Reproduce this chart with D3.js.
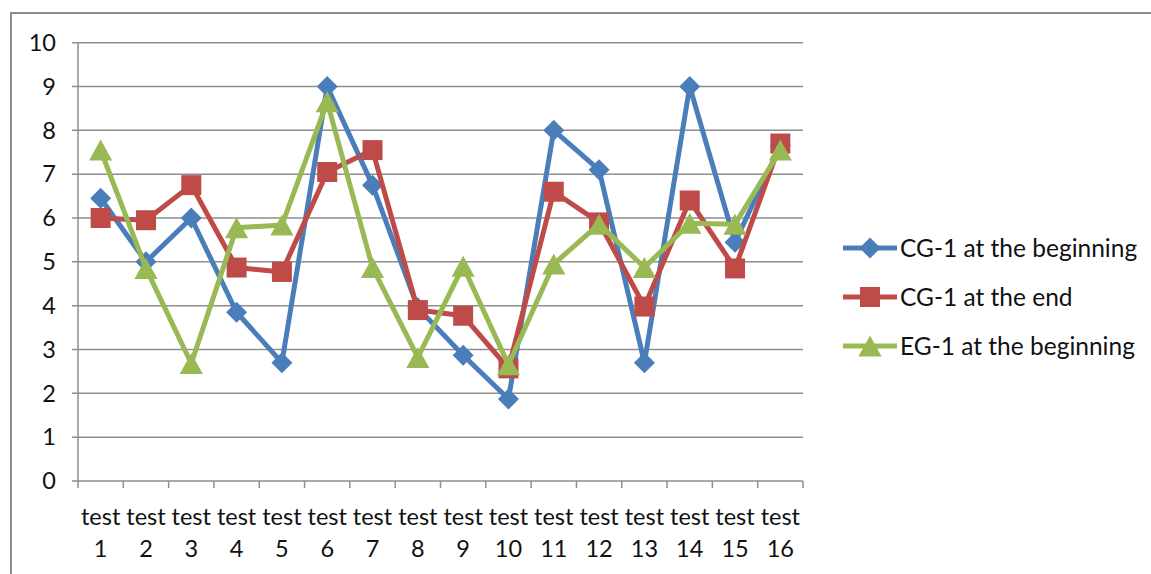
<!DOCTYPE html>
<html>
<head>
<meta charset="utf-8">
<script src="https://cdn.jsdelivr.net/npm/d3@7"></script>
<style>
  html, body { margin: 0; padding: 0; background: #fff; }
  svg { display: block; font-family: Lato, "Open Sans", sans-serif; }
</style>
</head>
<body>
<svg id="chart" width="1151" height="574"></svg>
<script>
// Test categories (two-line labels: "test" / number)
const categories = ["1","2","3","4","5","6","7","8","9","10","11","12","13","14","15","16"];

// Series values per test
const cgBegin = [6.45, 5.0, 6.0, 3.85, 2.7, 9.0, 6.75, 3.95, 2.87, 1.87, 8.0, 7.1, 2.7, 9.0, 5.45, 7.65];
const cgEnd   = [6.0, 5.95, 6.75, 4.87, 4.77, 7.05, 7.55, 3.9, 3.77, 2.57, 6.6, 5.9, 3.98, 6.4, 4.85, 7.7];
const egBegin = [7.55, 4.85, 2.68, 5.78, 5.84, 8.65, 4.87, 2.82, 4.9, 2.65, 4.95, 5.86, 4.87, 5.88, 5.86, 7.55];

const seriesNames = ["CG-1 at the beginning", "CG-1 at the end", "EG-1 at the beginning"];
const yTicks = [0,1,2,3,4,5,6,7,8,9,10];

// Marker shapes centred on their bounding box
const diamond = r => `M0,${-r}L${r},0L0,${r}L${-r},0Z`;
const square = r => `M${-r},${-r}H${r}V${r}H${-r}Z`;
const triangle = r => `M0,${-r}L${r * 1.1},${r}L${-r * 1.1},${r}Z`;

const series = [
  { name: seriesNames[0], values: cgBegin, color: "#4a7ebb", shape: diamond(10.5) },
  { name: seriesNames[1], values: cgEnd,   color: "#be4b48", shape: square(10) },
  { name: seriesNames[2], values: egBegin, color: "#98b954", shape: triangle(10.5) }
];

const svg = d3.select("#chart");

// Outer chart frame
svg.append("path")
  .attr("d", "M11,574 L11,13 L1151,13")
  .attr("fill", "none")
  .attr("stroke", "#8c8c8c")
  .attr("stroke-width", 2);

const plot = { left: 78, right: 803, top: 42.7, bottom: 481 };

const x = d3.scaleBand().domain(categories).range([plot.left, plot.right]);
const y = d3.scaleLinear().domain([0, 10]).range([plot.bottom, plot.top]);

// Horizontal gridlines
svg.append("g")
  .selectAll("line")
  .data(yTicks)
  .join("line")
  .attr("x1", plot.left - 6)
  .attr("x2", plot.right)
  .attr("y1", d => y(d))
  .attr("y2", d => y(d))
  .attr("stroke", "#8e8e8e")
  .attr("stroke-width", 1.5);

// Vertical axis line
svg.append("line")
  .attr("x1", plot.left).attr("x2", plot.left)
  .attr("y1", plot.top).attr("y2", plot.bottom + 7)
  .attr("stroke", "#8e8e8e").attr("stroke-width", 1.5);

// Category tick marks at band boundaries
const boundaries = categories.map(c => x(c)).concat([plot.right]).slice(1);
svg.append("g")
  .selectAll("line")
  .data(boundaries)
  .join("line")
  .attr("x1", d => d).attr("x2", d => d)
  .attr("y1", plot.bottom).attr("y2", plot.bottom + 7)
  .attr("stroke", "#8e8e8e").attr("stroke-width", 1.5);

// Y tick labels
svg.append("g")
  .selectAll("text")
  .data(yTicks)
  .join("text")
  .attr("x", plot.left - 22)
  .attr("y", d => y(d))
  .attr("dy", "0.35em")
  .attr("text-anchor", "end")
  .attr("font-size", 23.5)
  .attr("fill", "#111")
  .text(d => d);

// X category labels
const xl = svg.append("g")
  .selectAll("text")
  .data(categories)
  .join("text")
  .attr("text-anchor", "middle")
  .attr("font-size", 23.5)
  .attr("fill", "#111");
xl.append("tspan")
  .attr("x", d => x(d) + x.bandwidth() / 2)
  .attr("y", 525)
  .text("test");
xl.append("tspan")
  .attr("x", d => x(d) + x.bandwidth() / 2)
  .attr("y", 557)
  .text(d => d);

// Lines and markers
const line = d3.line()
  .x((d, i) => x(categories[i]) + x.bandwidth() / 2)
  .y(d => y(d));

series.forEach(s => {
  const g = svg.append("g");
  g.append("path")
    .attr("d", line(s.values))
    .attr("fill", "none")
    .attr("stroke", s.color)
    .attr("stroke-width", 5)
    .attr("stroke-linejoin", "round");
  g.selectAll("path.marker")
    .data(s.values)
    .join("path")
    .attr("class", "marker")
    .attr("d", s.shape)
    .attr("transform", (d, i) => `translate(${x(categories[i]) + x.bandwidth() / 2},${y(d)})`)
    .attr("fill", s.color);
});

// Legend
const legend = svg.append("g");
series.forEach((s, i) => {
  const ly = 248 + i * 49;
  legend.append("line")
    .attr("x1", 843).attr("x2", 897)
    .attr("y1", ly).attr("y2", ly)
    .attr("stroke", s.color).attr("stroke-width", 5);
  legend.append("path")
    .attr("d", s.shape)
    .attr("transform", `translate(870,${ly})`)
    .attr("fill", s.color);
  legend.append("text")
    .attr("x", 900)
    .attr("y", ly)
    .attr("dy", "0.35em")
    .attr("font-size", 24.5)
    .attr("fill", "#111")
    .text(s.name);
});
</script>
</body>
</html>
